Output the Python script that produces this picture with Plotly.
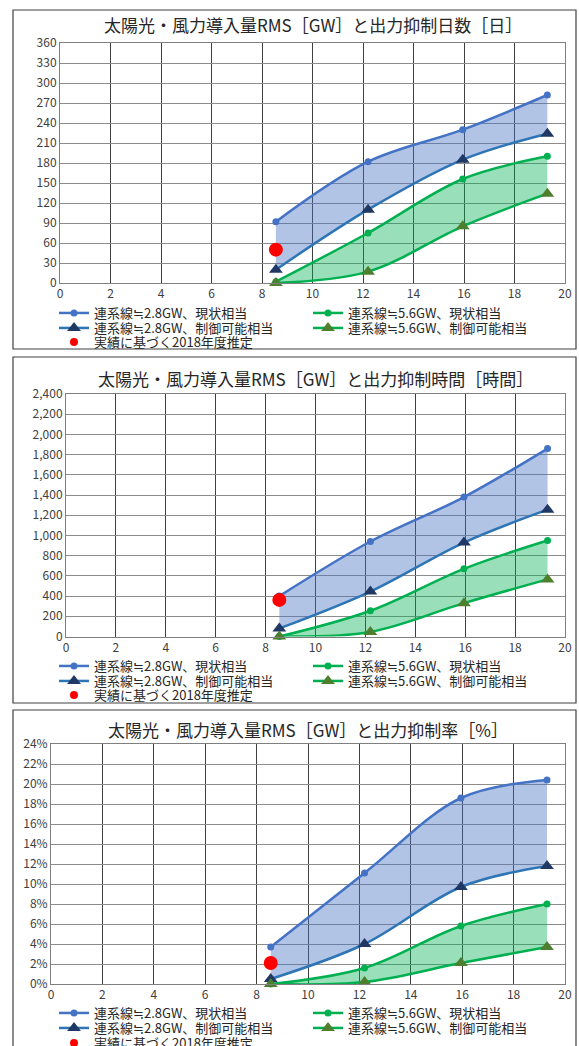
import plotly.graph_objects as go

# ---------------- data ----------------
rms_gw = [8.55, 12.2, 15.95, 19.3]
rms_2018 = [8.55]

days_28_now = [92, 182, 230, 282]
days_28_ctrl = [20, 110, 185, 224]
days_56_now = [2, 75, 156, 190]
days_56_ctrl = [0, 17, 85, 134]
days_2018 = [50]

hours_28_now = [400, 940, 1380, 1860]
hours_28_ctrl = [80, 445, 930, 1255]
hours_56_now = [0, 255, 670, 950]
hours_56_ctrl = [0, 45, 330, 565]
hours_2018 = [362]

rate_28_now = [3.7, 11.1, 18.6, 20.4]
rate_28_ctrl = [0.5, 4.0, 9.7, 11.8]
rate_56_now = [0.0, 1.6, 5.8, 8.0]
rate_56_ctrl = [0.0, 0.2, 2.1, 3.7]
rate_2018 = [2.1]

titles = [
    "太陽光・風力導入量RMS［GW］と出力抑制日数［日］",
    "太陽光・風力導入量RMS［GW］と出力抑制時間［時間］",
    "太陽光・風力導入量RMS［GW］と出力抑制率［%］",
]
names = [
    "連系線≒2.8GW、現状相当",
    "連系線≒2.8GW、制御可能相当",
    "連系線≒5.6GW、現状相当",
    "連系線≒5.6GW、制御可能相当",
    "実績に基づく2018年度推定",
]
x_ticks = list(range(0, 21, 2))

panels = [
    dict(a=days_28_now, b=days_28_ctrl, c=days_56_now, d=days_56_ctrl, r=days_2018,
         yrange=[0, 360], dtick=30, fmt="", suffix=""),
    dict(a=hours_28_now, b=hours_28_ctrl, c=hours_56_now, d=hours_56_ctrl, r=hours_2018,
         yrange=[0, 2400], dtick=200, fmt=",", suffix=""),
    dict(a=rate_28_now, b=rate_28_ctrl, c=rate_56_now, d=rate_56_ctrl, r=rate_2018,
         yrange=[0, 24], dtick=2, fmt="", suffix="%"),
]

# ---------------- layout geometry (pixels) ----------------
W, H = 579, 1046
FONT = "Noto Sans CJK JP, Noto Sans, sans-serif"
geo = [
    dict(px=(60, 565), py=(283, 43), box=(13, 10, 576, 349), title_y=24, rows=(313, 328, 342)),
    dict(px=(66, 565), py=(636.5, 394), box=(13, 357, 576, 703), title_y=378, rows=(666, 681, 695)),
    dict(px=(51, 565), py=(984, 744), box=(13, 710, 576, 1060), title_y=729, rows=(1013, 1028, 1043)),
]

BLUE_A = "#4472C4"
BLUE_B = "#2E75B6"
NAVY = "#1F3864"
GREEN = "#00B050"
OLIVE = "#4E7F2E"
FILL_BLUE = "rgba(68,114,196,0.42)"
FILL_GREEN = "rgba(0,176,80,0.40)"

fig = go.Figure()
shapes = []
annotations = []
layout_axes = {}
legends = {}

sp = dict(shape="spline", smoothing=1.0)
for i, (p, g) in enumerate(zip(panels, geo)):
    k = "" if i == 0 else str(i + 1)
    xa, ya = "x" + k, "y" + k
    lg = [f"legend{3 * i + j + 1}" if (3 * i + j) > 0 else "legend" for j in range(3)]

    # band fills (no legend)
    fig.add_trace(go.Scatter(x=rms_gw, y=p["b"], mode="lines", line=dict(width=0, **sp),
                             showlegend=False, hoverinfo="skip", xaxis=xa, yaxis=ya))
    fig.add_trace(go.Scatter(x=rms_gw, y=p["a"], mode="lines", line=dict(width=0, **sp),
                             fill="tonexty", fillcolor=FILL_BLUE,
                             showlegend=False, hoverinfo="skip", xaxis=xa, yaxis=ya))
    fig.add_trace(go.Scatter(x=rms_gw, y=p["d"], mode="lines", line=dict(width=0, **sp),
                             showlegend=False, hoverinfo="skip", xaxis=xa, yaxis=ya))
    fig.add_trace(go.Scatter(x=rms_gw, y=p["c"], mode="lines", line=dict(width=0, **sp),
                             fill="tonexty", fillcolor=FILL_GREEN,
                             showlegend=False, hoverinfo="skip", xaxis=xa, yaxis=ya))

    # lines
    fig.add_trace(go.Scatter(x=rms_gw, y=p["a"], mode="lines+markers", name=names[0],
                             line=dict(color=BLUE_A, width=2.5, **sp),
                             marker=dict(symbol="circle", size=7, color=BLUE_A),
                             cliponaxis=False, legend=lg[0], xaxis=xa, yaxis=ya))
    fig.add_trace(go.Scatter(x=rms_gw, y=p["c"], mode="lines+markers", name=names[2],
                             line=dict(color=GREEN, width=2.5, **sp),
                             marker=dict(symbol="circle", size=7, color=GREEN),
                             cliponaxis=False, legend=lg[0], xaxis=xa, yaxis=ya))
    fig.add_trace(go.Scatter(x=rms_gw, y=p["b"], mode="lines+markers", name=names[1],
                             line=dict(color=BLUE_B, width=2.5, **sp),
                             marker=dict(symbol="triangle-up", size=12, color=NAVY),
                             cliponaxis=False, legend=lg[1], xaxis=xa, yaxis=ya))
    fig.add_trace(go.Scatter(x=rms_gw, y=p["d"], mode="lines+markers", name=names[3],
                             line=dict(color=GREEN, width=2.5, **sp),
                             marker=dict(symbol="triangle-up", size=12, color=OLIVE),
                             cliponaxis=False, legend=lg[1], xaxis=xa, yaxis=ya))
    fig.add_trace(go.Scatter(x=rms_2018, y=p["r"], mode="markers", name=names[4],
                             marker=dict(symbol="circle", size=14, color="#FF0000"),
                             cliponaxis=False, showlegend=False, xaxis=xa, yaxis=ya))
    # legend entry for the 2018 estimate (smaller symbol, as in the reference legend)
    fig.add_trace(go.Scatter(x=[None], y=[None], mode="markers", name=names[4],
                             marker=dict(symbol="circle", size=8, color="#FF0000"),
                             legend=lg[2], xaxis=xa, yaxis=ya))

    x0, x1 = g["px"]
    y0, y1 = g["py"]
    xd = [x0 / W, x1 / W]
    yd = [1 - y0 / H, 1 - y1 / H]
    layout_axes["xaxis" + k] = dict(
        domain=xd, range=[0, 20], tickvals=x_ticks, anchor=ya,
        showgrid=True, gridcolor="#3f3f3f", gridwidth=1,
        showline=True, mirror=True, linecolor="#7f7f7f", linewidth=1,
        zeroline=False, ticks="", tickfont=dict(size=12, color="#404040", family=FONT),
        fixedrange=True, automargin=False,
    )
    layout_axes["yaxis" + k] = dict(
        domain=yd, range=p["yrange"], dtick=p["dtick"], tick0=0, anchor=xa,
        tickformat=p["fmt"], ticksuffix=p["suffix"],
        showgrid=True, gridcolor="#8c8c8c", gridwidth=1,
        showline=True, mirror=True, linecolor="#7f7f7f", linewidth=1,
        zeroline=False, ticks="", tickfont=dict(size=12, color="#404040", family=FONT),
        fixedrange=True, automargin=False,
    )

    bx0, by0, bx1, by1 = g["box"]
    shapes.append(dict(type="rect", xref="paper", yref="paper",
                       x0=bx0 / W, x1=bx1 / W, y0=1 - by1 / H, y1=1 - by0 / H,
                       line=dict(color="#404040", width=1.2), fillcolor="rgba(0,0,0,0)",
                       layer="below"))
    annotations.append(dict(text=titles[i], xref="paper", yref="paper",
                            x=(x0 + x1) / 2 / W, y=1 - g["title_y"] / H,
                            xanchor="center", yanchor="middle", showarrow=False,
                            font=dict(size=17, color="#262626", family=FONT)))

    for j, ry in enumerate(g["rows"]):
        legends[lg[j]] = dict(
            orientation="h", x=54 / W, xanchor="left", y=1 - ry / H, yanchor="middle",
            entrywidth=209, entrywidthmode="pixels", bgcolor="rgba(0,0,0,0)",
            font=dict(size=13, color="#262626", family=FONT), itemwidth=30,
            borderwidth=0, traceorder="normal",
        )

fig.update_layout(
    width=W, height=H, autosize=False,
    margin=dict(l=0, r=0, t=0, b=0, pad=0, autoexpand=False),
    paper_bgcolor="white", plot_bgcolor="white",
    font=dict(family=FONT, color="#404040"),
    shapes=shapes, annotations=annotations,
    hovermode=False,
    **layout_axes, **legends,
)

fig.write_html("out.html")
